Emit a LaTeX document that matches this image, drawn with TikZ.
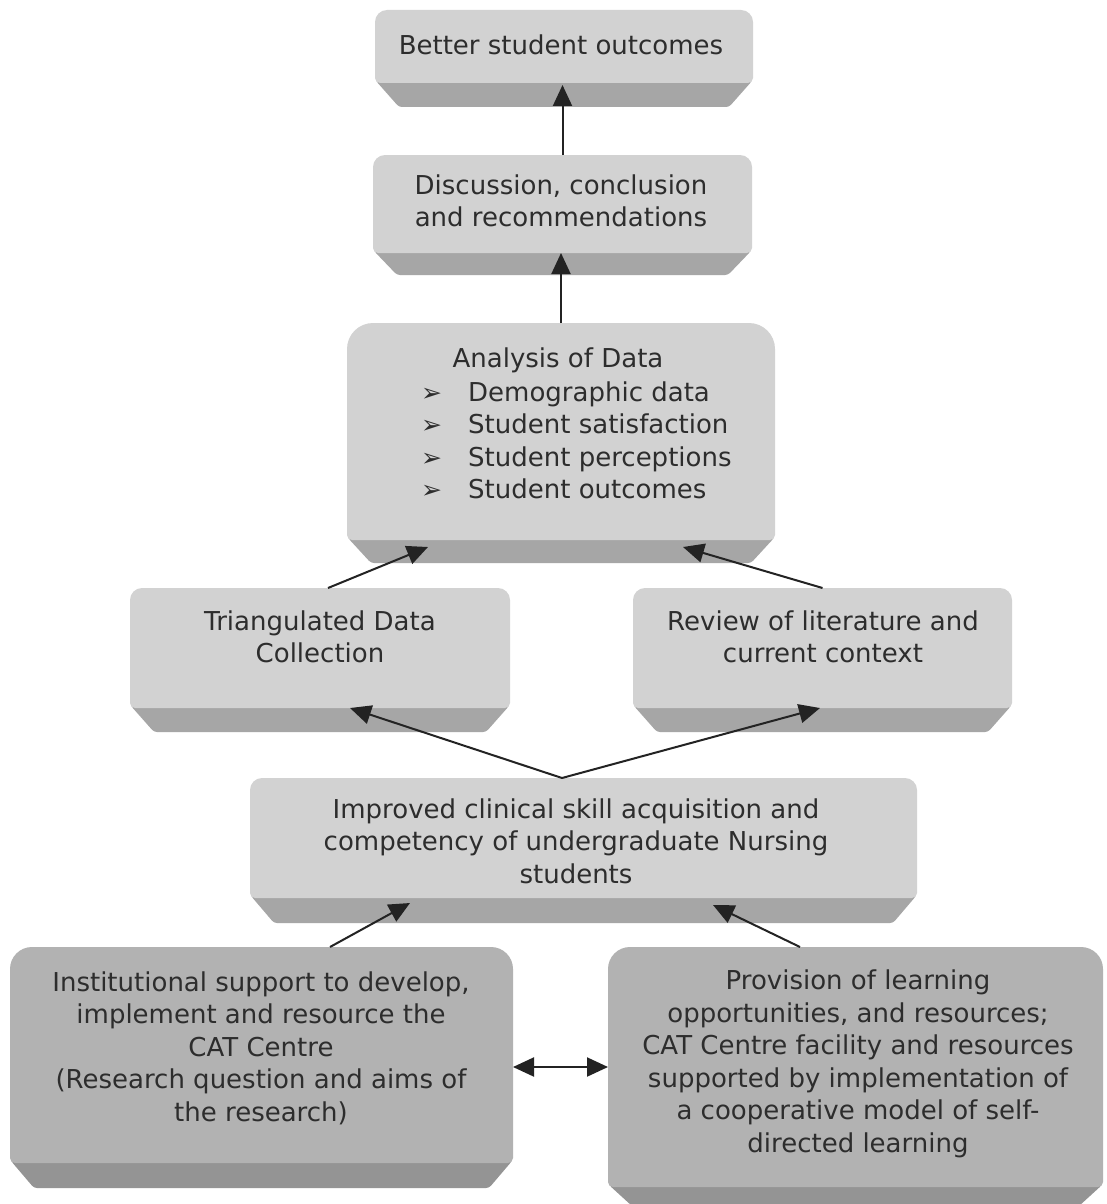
\documentclass[tikz,border=0pt]{standalone}
\usepackage{fontspec}
\setmainfont{DejaVu Sans}
\usetikzlibrary{arrows.meta}
\definecolor{facel}{RGB}{210,210,210}
\definecolor{bevl}{RGB}{166,166,166}
\definecolor{faced}{RGB}{178,178,178}
\definecolor{bevd}{RGB}{148,148,148}
\definecolor{txt}{RGB}{45,45,45}
\definecolor{arrc}{RGB}{35,35,35}
% #1 name, #2 left, #3 top, #4 right, #5 face bottom, #6 bevel bottom, #7 radius, #8 face colour, #9 bevel colour
\newcommand{\mybox}[9]{%
  \fill[#9, rounded corners=3pt] (#2+1,#5-14) -- (#4-1,#5-14) -- (#4-1,#5-2) -- (#4-24,#6) -- (#2+24,#6) -- (#2+1,#5-2) -- cycle;
  \fill[#8, rounded corners=5pt] (#2,{(#3+#5)/2}) -- (#2,#5) -- (#4,#5) -- (#4,{(#3+#5)/2}) [rounded corners=#7] -- (#4,#3) -- (#2,#3) -- cycle;
  \node[inner sep=0pt, outer sep=0pt,
        minimum width={#4-#2}, minimum height={#5-#3}] (#1) at ({(#2+#4)/2},{(#3+#5)/2}) {};
}
\newcommand{\bul}{{\fontsize{25}{25}\selectfont ➢}}
\tikzset{
  arr/.style={draw=arrc, line width=2pt, -{Triangle[length=21pt,width=19pt]}},
  darr/.style={draw=arrc, line width=2pt, {Triangle[length=21pt,width=19pt]}-{Triangle[length=21pt,width=19pt]}},
  lbl/.style={text=txt, align=center, inner sep=0pt, font=\fontsize{26}{32.5}\selectfont},
  lstl/.style={text=txt, align=left, inner sep=0pt, font=\fontsize{26}{32.5}\selectfont}
}
\begin{document}
\begin{tikzpicture}[x=1pt,y=-1pt]
\useasboundingbox[fill=white] (0,0) rectangle (1106,1204);
% boxes
\mybox{f1}{375}{10}{753}{83}{107}{12pt}{facel}{bevl}
\mybox{f2}{373}{155}{752}{253}{275}{12pt}{facel}{bevl}
\mybox{f3}{347}{323}{775}{540}{563}{26pt}{facel}{bevl}
\mybox{f4}{130}{588}{510}{708}{732}{12pt}{facel}{bevl}
\mybox{f5}{633}{588}{1012}{708}{732}{12pt}{facel}{bevl}
\mybox{f6}{250}{778}{917}{898}{923}{12pt}{facel}{bevl}
\mybox{f7}{10}{947}{513}{1163}{1188}{22pt}{faced}{bevd}
\mybox{f8}{608}{947}{1103}{1187}{1206}{22pt}{faced}{bevd}
% texts
\node[lbl] (t1) at (561,45) {Better student outcomes};
\node[lbl] (t2) at (561,201) {Discussion, conclusion\\and recommendations};
\node[lbl] (t3) at (558,360) {Analysis of Data};
\node[lstl, anchor=west] (t3l) at (421,440.5) {\makebox[47pt][l]{\bul}Demographic data\\\makebox[47pt][l]{\bul}Student satisfaction\\\makebox[47pt][l]{\bul}Student perceptions\\\makebox[47pt][l]{\bul}Student outcomes};
\node[lbl] (t4) at (320,637) {Triangulated Data\\Collection};
\node[lbl] (t5) at (823,637) {Review of literature and\\current context};
\node[lbl] (t6) at (576,841) {Improved clinical skill acquisition and\\competency of undergraduate Nursing\\students};
\node[lbl] (t7) at (261,1048) {Institutional support to develop,\\implement and resource the\\CAT Centre\\(Research question and aims of\\the research)};
\node[lbl] (t8) at (858,1064) {Provision of learning\\opportunities, and resources;\\CAT Centre facility and resources\\supported by implementation of\\a cooperative model of self-\\directed learning};
% connectors
\draw[arr] (f2.north) -- ([yshift=-2pt]f2.north |- f1.south);
\draw[arr] (f3.north) -- (f3.north |- f2.south);
\draw[arr] ([xshift=8pt]f4.north) -- ([xshift=-133pt,yshift=-7pt]f3.south);
\draw[arr] (f5.north) -- ([xshift=122pt,yshift=-7pt]f3.south);
\draw[arr] ([xshift=-21.5pt]f6.north) -- ([xshift=30pt]f4.south);
\draw[arr] ([xshift=-21.5pt]f6.north) -- ([xshift=-2.5pt]f5.south);
\draw[arr] ([xshift=68.5pt]f7.north) -- ([xshift=-173.5pt,yshift=-5pt]f6.south);
\draw[arr] ([xshift=-55.5pt]f8.north) -- ([xshift=129.5pt,yshift=-7pt]f6.south);
\draw[darr] ([yshift=-12pt]f7.east) -- (f8.west);
\end{tikzpicture}
\end{document}
